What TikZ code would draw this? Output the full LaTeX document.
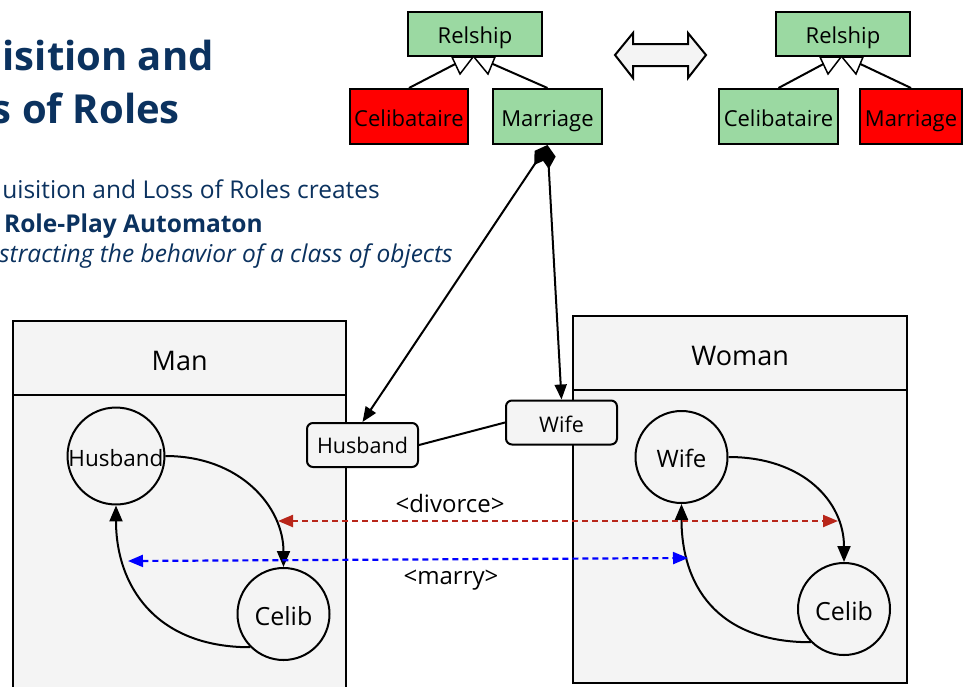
\documentclass[tikz,border=0pt]{standalone}
\usepackage{fontspec}
\setmainfont{Open Sans}
\usetikzlibrary{arrows.meta}
\definecolor{titleblue}{HTML}{0B325F}
\definecolor{umlgreen}{HTML}{9BD9A2}
\definecolor{umlred}{HTML}{FF0000}
\definecolor{panel}{HTML}{F4F4F4}
\definecolor{divred}{HTML}{B8261A}
\definecolor{marryblue}{HTML}{0000FF}

\begin{document}
\begin{tikzpicture}[x=1pt,y=-1pt,
  fs/.style={font=\fontsize{#1}{#1}\selectfont},
  lab/.style={text height=#1, text depth=0pt},
  headline/.style={anchor=base east, inner sep=0pt, text=titleblue},
  umlbox/.style={draw, line width=2pt, inner sep=0pt, minimum height=55, fs=22, lab=19.7pt},
  relbox/.style={umlbox, fill=umlgreen, minimum width=134, minimum height=44},
  genhead/.style={draw, line width=1.5pt, fill=white, line join=miter},
  genline/.style={line width=2pt},
  panelhead/.style={draw, line width=2.2pt, fill=panel, anchor=north west, inner sep=0pt, fs=27, lab=25pt},
  panelbody/.style={draw, line width=2.2pt, fill=panel, anchor=north west, inner sep=0pt},
  state/.style={draw, circle, line width=2pt, fill=panel, minimum size=92, inner sep=0pt},
  port/.style={draw, rounded corners=6pt, line width=2pt, fill=panel, minimum height=44, minimum width=111, inner sep=0pt, fs=21.5},
  trans/.style={line width=2pt, -{Triangle[length=16pt,width=13pt]}},
  comp/.style={line width=2pt, {Diamond[length=24pt,width=15pt]}-{Triangle[length=15pt,width=12pt]}},
  event/.style={line width=2.2pt, dash pattern=on 6pt off 4pt,
    {Triangle[length=15pt,width=12pt]}-{Triangle[length=15pt,width=12pt]}},
]
\useasboundingbox (0,0) rectangle (966,686);
\fill[white] (0,0) rectangle (966,686);

% heading and subtitle lines
\node[headline, font=\fontsize{40}{40}\selectfont\bfseries] (title1) at (214,70) {isition and};
\node[headline, font=\fontsize{40}{40}\selectfont\bfseries] (title2) at (180,123) {s of Roles};
\node[headline, font=\fontsize{24.5}{24.5}\selectfont] (sub1) at (380,198) {uisition and Loss of Roles creates};
\node[headline, font=\fontsize{24.5}{24.5}\selectfont\bfseries] (sub2) at (263,232) {Role-Play Automaton};
\node[headline, font=\fontsize{24.5}{24.5}\selectfont\itshape] (sub3) at (453,262) {stracting the behavior of a class of objects};

% relationship class hierarchy, married configuration
\node[relbox] (rel1) at (475,34) {Relship};
\node[umlbox, fill=umlred, minimum width=118] (cel1) at (409,116.5) {Celibataire};
\node[umlbox, fill=umlgreen, minimum width=109] (mar1) at (547.5,116.5) {Marriage};
\coordinate (g1a) at (461,61);
\coordinate (g1b) at (486,61);
\draw[genline] (cel1.north) -- (g1a);
\draw[genline] (mar1.north) -- (g1b);
\draw[genhead] (452,57) -- (473,57) -- (460,74) -- cycle;
\draw[genhead] (474,57) -- (495,57) -- (488,74) -- cycle;

% relationship class hierarchy, single configuration
\node[relbox] (rel2) at (843,34) {Relship};
\node[umlbox, fill=umlgreen, minimum width=119] (cel2) at (778.5,116.5) {Celibataire};
\node[umlbox, fill=umlred, minimum width=102] (mar2) at (911,116.5) {Marriage};
\coordinate (g2a) at (829,61);
\coordinate (g2b) at (854,61);
\draw[genline] (cel2.north) -- (g2a);
\draw[genline] (mar2.north) -- (g2b);
\draw[genhead] (820,57) -- (841,57) -- (828,74) -- cycle;
\draw[genhead] (842,57) -- (863,57) -- (856,74) -- cycle;

% two-way switch between the configurations
\draw[line width=2pt, fill=panel, line join=miter] (615,55) -- (633,33) -- (633,44) -- (688,44) -- (688,33)
  -- (706,55) -- (688,78) -- (688,66) -- (633,66) -- (633,78) -- cycle;

% Man panel
\node[panelhead, minimum width=333, minimum height=74] (manhead) at (12,320) {Man};
\node[panelbody, minimum width=333, minimum height=320] (manbody) at (12,394) {};

% Woman panel
\node[panelhead, minimum width=334, minimum height=74] (womanhead) at (572,315) {Woman};
\node[panelbody, minimum width=334, minimum height=293] (womanbody) at (572,389) {};

% role ports
\node[port, lab=16.5pt] (hport) at (362.5,445) {Husband};
\node[port, lab=19pt] (wport) at (561.5,422.5) {Wife};
\draw[line width=2pt] (hport.east) -- (wport.west);
\draw[comp] (mar1.south) -- (hport.north);
\draw[comp] (mar1.south) -- (wport.north);

% Man role automaton
\node[state, fs=22.5, lab=20pt] (mhus) at (116,456) {Husband};
\node[state, fs=25, lab=23pt] (mcel) at (283.5,614) {Celib};
\draw[trans] (mhus.east) .. controls +(75,0) and +(0,-60) .. (mcel.north);
\draw[trans] (mcel.225) .. controls +(-95,0) and +(0,80) .. (mhus.south);

% Woman role automaton
\node[state, fs=24, lab=21.5pt] (wwife) at (681.5,457) {Wife};
\node[state, fs=25, lab=23pt] (wcel) at (844,609) {Celib};
\draw[trans] (wwife.east) .. controls +(75,0) and +(0,-60) .. (wcel.north);
\draw[trans] (wcel.225) .. controls +(-95,0) and +(0,80) .. (wwife.south);

% events
\coordinate (divL) at (278,521);
\coordinate (divR) at (838,521);
\coordinate (marL) at (128,561);
\coordinate (marR) at (688,558);
\draw[event, divred] (divL) -- (divR);
\draw[event, marryblue] (marL) -- (marR);
\node[fs=24, inner sep=0pt] (divlabel) at (450,503) {<divorce>};
\node[fs=24, inner sep=0pt] (marlabel) at (451,580) {<marry>};
\end{tikzpicture}
\end{document}
